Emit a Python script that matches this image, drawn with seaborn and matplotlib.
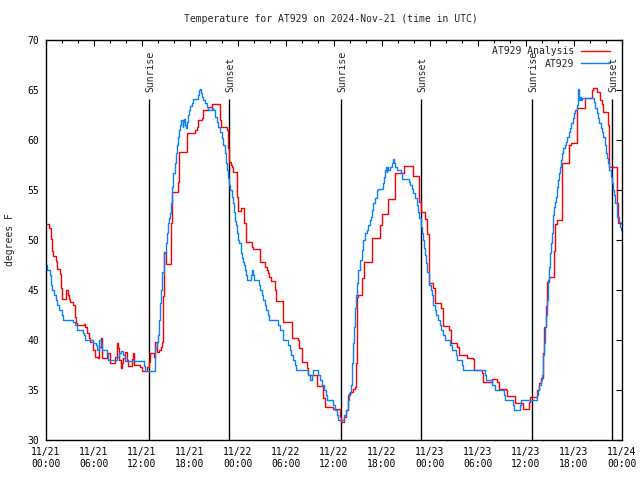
import matplotlib
matplotlib.use("Agg")
import matplotlib.pyplot as plt
from matplotlib.lines import Line2D
import numpy as np
import pandas as pd
import seaborn as sns

# ---------------- data ----------------
title = "Temperature for AT929 on 2024-Nov-21 (time in UTC)"
ylabel = "degrees F"
series_names = ["AT929 Analysis", "AT929"]
series_colors = ["#ff0000", "#0a80ff"]

# hours since 11/21 00:00 UTC
analysis_hours = [0, 0.42, 0.625, 0.79, 0.92, 1.21, 1.42, 1.75, 1.92, 2.04, 2.54, 2.71, 2.92, 3.04, 3.42,
                  3.625, 3.79, 3.92, 4.71, 4.92, 5.08, 5.33, 5.54, 5.92, 6.08, 6.54, 6.67, 6.83, 6.96,
                  7.58, 7.79, 8.0, 8.67, 8.83, 8.96, 9.08, 9.375, 9.5, 9.67, 9.92, 10.08, 10.21, 10.71,
                  10.875, 11.04, 11.75, 12.0, 12.67, 12.83, 13.0, 13.5, 13.67, 13.83, 14.125, 14.33,
                  14.5, 14.67, 14.79, 15.0, 15.58, 15.75, 16.5, 16.67, 17.58, 18.67, 18.83, 19.04,
                  19.54, 19.67, 20.29, 20.79, 21.75, 21.83, 22.58, 22.79, 22.92, 23.08, 23.21, 23.42,
                  23.83, 24.04, 24.33, 24.75, 25.0, 25.71, 25.92, 26.75, 27.375, 27.58, 27.79, 27.92,
                  28.125, 28.625, 28.75, 29.67, 30.71, 31.54, 31.67, 31.96, 32.67, 32.79, 33.83,
                  34.67, 34.875, 35.92, 36.75, 36.83, 37.29, 37.5, 37.79, 38.0, 38.33, 38.625, 38.71,
                  38.83, 38.96, 39.54, 39.75, 40.71, 41.75, 41.96, 42.79, 43.625, 44.79, 45.83,
                  46.67, 46.83, 47.375, 47.67, 47.875, 47.92, 48.42, 48.58, 49.375, 49.67, 50.42,
                  50.58, 51.42, 51.625, 52.58, 53.42, 53.54, 54.46, 54.67, 55.71, 56.33, 56.625,
                  57.5, 57.67, 58.625, 59.58, 60.42, 60.5, 61.42, 61.67, 61.83, 62.08, 62.29, 62.5,
                  62.58, 62.92, 63.5, 63.625, 63.83, 64.54, 65.42, 65.58, 66.33, 67.375, 68.21,
                  68.42, 68.92, 69.25, 69.46, 69.67, 70.29, 70.42, 71.42, 71.54, 72.0]
analysis_temps = [51.6, 51.2, 50.1, 48.9, 48.4, 47.9, 47.1, 46.6, 45.2, 44.1, 45.0, 44.5, 44.1, 43.8, 43.5,
                  42.3, 41.7, 41.5, 41.6, 41.3, 40.7, 40.2, 39.8, 39.0, 38.3, 38.2, 39.3, 40.2, 38.2,
                  38.6, 38.7, 37.7, 38.3, 39.7, 39.2, 38.0, 37.2, 37.7, 38.2, 38.8, 38.0, 37.4, 38.1,
                  38.7, 37.5, 37.3, 36.9, 37.3, 37.8, 38.7, 38.3, 39.8, 38.8, 39.0, 39.3,
                  39.8, 44.4, 48.8, 47.6, 51.7, 54.8, 55.8, 58.8, 60.7, 61.0, 61.3, 62.0,
                  62.2, 63.0, 63.3, 63.6, 62.0, 61.3, 61.0, 59.2, 57.8, 57.5, 57.3, 56.8,
                  54.3, 52.9, 53.2, 51.7, 49.8, 49.3, 49.1, 47.8, 47.3, 47.0, 46.7, 46.3,
                  45.9, 45.0, 43.9, 41.8, 40.2, 40.0, 39.2, 37.8, 37.2, 36.5, 35.4,
                  34.2, 33.3, 33.1, 32.3, 31.8, 32.3, 33.0, 34.5, 34.8, 35.1, 35.3, 37.7,
                  44.3, 44.5, 46.2, 47.8, 50.2, 51.5, 52.6, 54.1, 56.7, 57.4, 56.4,
                  53.8, 52.8, 52.1, 50.6, 47.3, 45.7, 45.2, 43.7, 43.2, 41.4, 41.0,
                  39.7, 39.3, 38.5, 38.2, 38.1, 37.0, 36.7, 35.8, 36.1, 35.8, 35.1,
                  35.0, 34.4, 33.7, 33.1, 33.8, 34.3, 35.0, 35.7, 36.2, 38.7, 41.3, 43.4,
                  45.8, 46.3, 48.9, 51.6, 52.0, 57.7, 59.5, 59.7, 63.2, 64.2, 65.0,
                  65.2, 64.8, 64.0, 63.6, 62.8, 61.5, 57.3, 53.7, 51.7, 51.7]

obs_hours = [0, 0.17, 0.5, 0.625, 0.71, 1.04, 1.21, 1.42, 1.625, 2.0, 2.17, 3.42, 3.625, 3.83, 4.58,
             4.75, 4.92, 5.92, 6.21, 6.42, 6.58, 6.83, 7.0, 7.58, 7.71, 8.92, 9.17, 9.33, 9.67, 9.83,
             12.25, 12.375, 13.67, 13.83, 14.0, 14.125, 14.25, 14.42, 14.54, 14.75, 14.96, 15.08,
             15.25, 15.375, 15.5, 15.625, 15.79, 15.92, 16.08, 16.21, 16.33, 16.46, 16.625, 16.75,
             16.92, 17.08, 17.17, 17.25, 17.42, 17.5, 17.58, 17.75, 17.875, 18.0, 18.21, 18.33,
             19.0, 19.17, 19.29, 19.375, 19.5, 19.67, 19.875, 20.08, 20.29, 20.71, 20.92, 21.125,
             21.33, 21.54, 21.75, 21.96, 22.17, 22.375, 22.5, 22.67, 22.79, 22.92, 23.04, 23.21,
             23.33, 23.5, 23.625, 23.75, 23.92, 24.04, 24.17, 24.33, 24.46, 24.58, 24.75, 24.875,
             25.0, 25.17, 25.58, 25.71, 25.83, 26.0, 26.58, 26.79, 26.96, 27.08, 27.33, 27.5,
             27.79, 27.875, 29.04, 29.25, 29.58, 29.67, 30.21, 30.5, 30.625, 30.92, 31.125, 31.25,
             32.79, 33.0, 33.21, 33.33, 34.04, 34.25, 34.46, 34.75, 35.0, 35.17, 35.92, 36.125,
             36.33, 36.54, 37.25, 37.5, 37.71, 37.92, 38.08, 38.21, 38.42, 38.54, 38.625, 38.75,
             38.92, 39.04, 39.25, 39.46, 39.67, 39.875, 40.08, 40.29, 40.5, 40.58, 40.71, 40.92,
             41.125, 41.33, 41.5, 42.08, 42.17, 42.29, 42.375, 42.5, 42.58, 42.67, 42.79, 43.0,
             43.21, 43.42, 43.5, 43.625, 43.83, 44.375, 44.46, 45.42, 45.5, 45.71, 45.92, 46.125,
             46.33, 46.54, 46.67, 46.83, 46.96, 47.08, 47.25, 47.375, 47.5, 47.67, 47.83, 47.92,
             48.08, 48.25, 48.42, 48.58, 48.75, 49.04, 49.25, 49.42, 49.67, 49.83, 50.5, 50.71,
             51.25, 51.42, 51.96, 52.17, 54.875, 55.0, 55.71, 56.125, 57.25, 57.375, 58.33, 58.5,
             59.25, 59.33, 61.42, 61.54, 61.67, 61.83, 61.96, 62.08, 62.17, 62.25, 62.375, 62.5,
             62.67, 62.79, 62.92, 63.0, 63.125, 63.21, 63.33, 63.42, 63.54, 63.625, 63.75, 63.92,
             64.04, 64.17, 64.25, 64.375, 64.5, 64.67, 64.83, 65.0, 65.17, 65.33, 65.5, 65.67,
             65.83, 66.0, 66.17, 66.33, 66.5, 66.54, 66.625, 66.75, 66.875, 67.0, 68.5, 68.625,
             68.83, 69.04, 69.17, 69.33, 69.5, 69.67, 69.83, 70.0, 70.17, 70.29, 70.42, 70.58,
             70.71, 70.83, 71.0, 71.17, 71.33, 71.42, 71.58, 71.75, 71.875, 72.0]
obs_temps = [47.5, 47.0, 46.5, 45.5, 45.0, 44.5, 44.0, 43.5, 43.0, 42.5, 42.0, 41.8, 41.5, 41.0, 40.7,
             40.5, 40.0, 39.7, 39.5, 39.0, 40.0, 39.5, 39.0, 38.5, 38.0, 38.3, 38.7, 38.9, 38.5, 37.9,
             37.4, 36.9, 39.2, 39.8, 40.5, 42.0, 43.7, 45.0, 46.8, 48.7, 49.7, 50.7,
             51.7, 52.2, 52.7, 53.7, 55.3, 56.7, 57.7, 58.7, 59.5, 60.3, 61.0, 61.5,
             62.0, 61.3, 61.8, 62.1, 61.5, 61.2, 61.8, 62.5, 63.0, 63.4, 63.7, 64.1,
             64.5, 65.0, 65.1, 64.7, 64.3, 64.0, 63.7, 63.3, 63.0, 63.2, 63.0, 62.3,
             61.8, 61.3, 60.8, 60.2, 59.5, 58.7, 57.7, 57.0, 56.2, 55.5, 55.0, 54.3,
             53.7, 52.8, 51.9, 51.5, 50.7, 50.0, 49.7, 48.7, 48.2, 47.8, 47.5, 47.0,
             46.5, 46.0, 46.5, 47.0, 46.5, 46.0, 45.5, 45.0, 44.5, 44.0, 43.5, 43.0,
             42.5, 42.0, 41.5, 41.0, 40.5, 40.0, 39.5, 39.0, 38.5, 38.0, 37.5, 37.0,
             36.5, 36.0, 36.5, 37.0, 36.5, 36.0, 35.5, 35.0, 34.5, 34.0, 33.5, 33.0,
             32.5, 32.0, 32.5, 33.0, 34.0, 34.7, 35.5, 37.7, 39.7, 41.3, 43.2, 44.5,
             45.7, 47.0, 48.0, 49.0, 50.0, 50.7, 51.0, 51.5, 52.0, 52.3, 53.0, 53.7,
             54.2, 55.0, 55.1, 55.1, 55.7, 56.3, 57.0, 57.3, 56.8, 57.3, 57.0, 57.3,
             57.7, 58.1, 57.7, 57.3, 57.0, 56.7, 56.1, 55.8, 55.5, 55.1, 54.7, 54.2,
             53.5, 52.8, 52.2, 51.3, 50.7, 50.0, 49.2, 48.5, 47.7, 46.8, 46.0, 45.5,
             45.0, 44.5, 43.5, 43.0, 42.5, 42.0, 41.5, 41.0, 40.5, 40.0, 39.5, 39.0,
             38.5, 38.0, 37.5, 37.0, 36.5, 36.0, 35.5, 35.0, 34.5, 34.0, 33.5, 33.0,
             33.5, 34.0, 34.5, 35.0, 35.5, 36.0, 36.5, 37.5, 38.5, 39.7, 41.3, 42.5,
             44.0, 46.0, 47.3, 48.7, 49.7, 50.7, 51.5, 52.5, 53.3, 53.8, 54.3, 55.3,
             56.0, 56.7, 57.3, 58.0, 58.7, 59.2, 59.5, 59.8, 60.3, 60.8, 61.2, 61.7,
             62.2, 62.7, 63.0, 63.5, 64.5, 65.1, 64.0, 64.3, 64.0, 64.2, 63.8, 63.2,
             62.7, 62.2, 61.7, 61.2, 60.8, 60.3, 59.5, 58.7, 58.2, 57.7, 57.0, 56.3,
             55.7, 55.0, 54.5, 53.7, 53.0, 52.3, 51.8, 51.3, 51.0, 51.0]

event_hours = [12.92, 22.92, 36.93, 46.92, 60.8, 70.8]
event_labels = ["Sunrise", "Sunset", "Sunrise", "Sunset", "Sunrise", "Sunset"]

xtick_hours = [0, 6, 12, 18, 24, 30, 36, 42, 48, 54, 60, 66, 72]
xtick_labels = ["11/21\n00:00", "11/21\n06:00", "11/21\n12:00", "11/21\n18:00",
                "11/22\n00:00", "11/22\n06:00", "11/22\n12:00", "11/22\n18:00",
                "11/23\n00:00", "11/23\n06:00", "11/23\n12:00", "11/23\n18:00",
                "11/24\n00:00"]
ytick_values = [30, 35, 40, 45, 50, 55, 60, 65, 70]

# ---------------- plot ----------------
sns.set_theme(style="white")
plt.rcParams["font.family"] = ["DejaVu Sans Mono", "DejaVu Sans"]
FS = 7

df = pd.concat([
    pd.DataFrame({"hours": analysis_hours, "temp": analysis_temps, "series": series_names[0]}),
    pd.DataFrame({"hours": obs_hours, "temp": obs_temps, "series": series_names[1]}),
], ignore_index=True)

fig = plt.figure(figsize=(6.4, 4.8), dpi=100)
ax = fig.add_axes([46 / 640, 40 / 480, 576 / 640, 400 / 480])

sns.lineplot(data=df, x="hours", y="temp", hue="series", hue_order=series_names,
             palette=dict(zip(series_names, series_colors)), drawstyle="steps-post",
             estimator=None, sort=False, linewidth=1.0, legend=False, ax=ax)

ax.set_xlim(0, 72)
ax.set_ylim(30, 70)
ax.set_xticks(xtick_hours)
ax.set_xticklabels(xtick_labels, fontsize=FS, linespacing=1.25)
ax.set_xticks(np.arange(0, 73, 2), minor=True)
ax.set_yticks(ytick_values)
ax.set_yticklabels([str(v) for v in ytick_values], fontsize=FS)
ax.set_xlabel("")
ax.set_ylabel("")
ax.tick_params(which="both", direction="in", top=True, right=True, colors="black")
ax.tick_params(which="major", length=4, width=0.8)
ax.tick_params(which="minor", length=2.2, width=0.8)
ax.tick_params(axis="x", which="major", pad=5)
ax.tick_params(axis="y", which="major", pad=5)
for s in ax.spines.values():
    s.set_visible(True)
    s.set_color("black")
    s.set_linewidth(1.0)

# sunrise / sunset markers
for h, lab in zip(event_hours, event_labels):
    ax.vlines(h, 30, 64.1, color="black", linewidth=1.0, zorder=1)
    ax.text(h + 0.15, 64.75, lab, rotation=90, ha="center", va="bottom", fontsize=FS)

# legend (text right, sample line right of text)
handles = [Line2D([], [], color=c, linewidth=1.0) for c in series_colors]
ax.legend(handles, series_names, loc="upper right", bbox_to_anchor=(0.979, 0.984),
          frameon=False, markerfirst=False, fontsize=FS, handlelength=3.0,
          handletextpad=0.7, labelspacing=0.25, borderpad=0, borderaxespad=0)

fig.text(331 / 640, 1 - 19 / 480, title, ha="center", va="center", fontsize=FS)
fig.text(10 / 640, 0.5, ylabel, rotation=90, ha="center", va="center", fontsize=FS)

fig.savefig("out.png", dpi=100, facecolor="white")
